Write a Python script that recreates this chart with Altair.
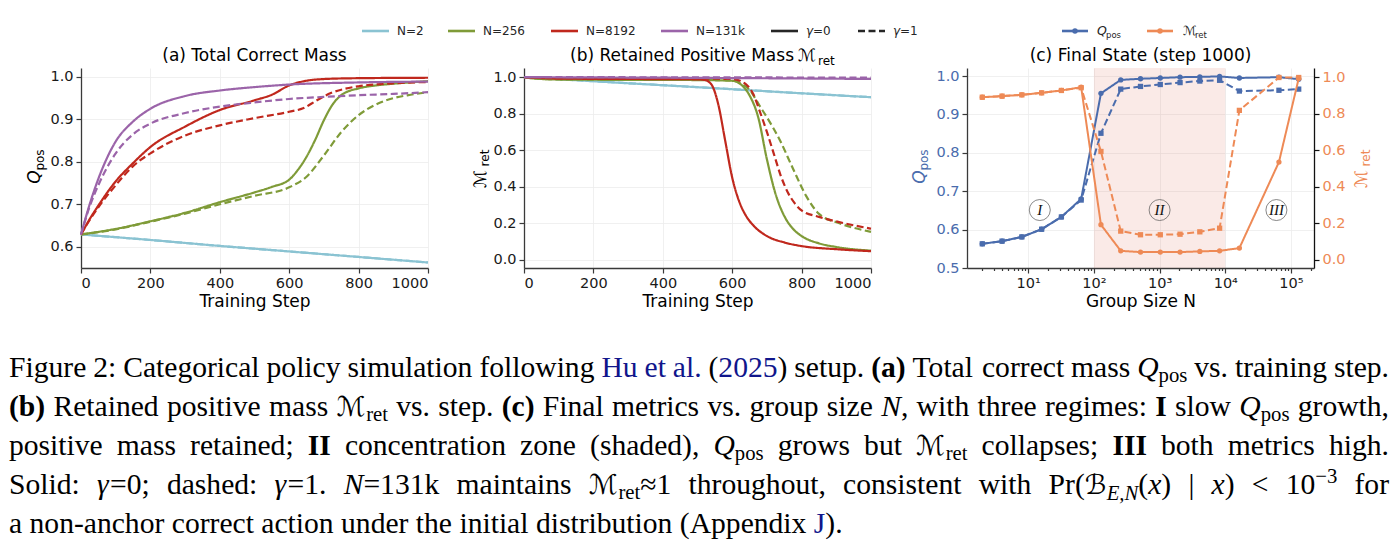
import altair as alt
import pandas as pd

# ======================= DATA =======================
N_LABELS = ["N=2", "N=256", "N=8192", "N=131k"]
GAMMA_LABELS = ["γ=0", "γ=1"]

# ---- panel (a): Q_pos vs training step ----
A_N2_STEPS = [0, 200, 400, 600, 800, 1000]
A_N2_G0 = [0.629, 0.616, 0.602, 0.589, 0.576, 0.563]
A_N2_G1 = [0.629, 0.616, 0.602, 0.589, 0.576, 0.563]
A_N256_G0_STEPS = [0, 100, 200, 300, 400, 500, 550, 600, 625, 650, 675, 700, 725, 750, 800, 850, 900, 1000]
A_N256_G0 = [0.629, 0.642, 0.660, 0.680, 0.705, 0.728, 0.741, 0.758, 0.781, 0.812, 0.852, 0.898, 0.935, 0.957, 0.973, 0.980, 0.984, 0.990]
A_N256_G1_STEPS = [0, 100, 200, 300, 400, 500, 600, 650, 700, 750, 800, 850, 900, 950, 1000]
A_N256_G1 = [0.629, 0.641, 0.659, 0.678, 0.700, 0.720, 0.740, 0.765, 0.815, 0.870, 0.910, 0.935, 0.950, 0.958, 0.964]
A_N8192_G0_STEPS = [0, 25, 50, 100, 150, 200, 300, 400, 500, 550, 600, 650, 700, 800, 1000]
A_N8192_G0 = [0.629, 0.665, 0.697, 0.754, 0.797, 0.835, 0.883, 0.922, 0.945, 0.958, 0.980, 0.991, 0.995, 0.997, 0.998]
A_N8192_G1_STEPS = [0, 25, 50, 100, 150, 200, 300, 400, 500, 600, 640, 680, 720, 760, 800, 900, 1000]
A_N8192_G1 = [0.629, 0.663, 0.693, 0.745, 0.790, 0.820, 0.862, 0.886, 0.903, 0.918, 0.926, 0.945, 0.962, 0.972, 0.978, 0.985, 0.988]
A_N131K_G0_STEPS = [0, 25, 50, 100, 150, 200, 300, 400, 500, 600, 800, 1000]
A_N131K_G0 = [0.629, 0.700, 0.760, 0.848, 0.895, 0.925, 0.955, 0.968, 0.976, 0.982, 0.987, 0.989]
A_N131K_G1_STEPS = [0, 25, 50, 100, 150, 200, 300, 400, 500, 600, 700, 800, 900, 1000]
A_N131K_G1 = [0.629, 0.695, 0.745, 0.820, 0.865, 0.890, 0.915, 0.930, 0.940, 0.948, 0.953, 0.957, 0.960, 0.964]

# ---- panel (b): M_ret vs training step ----
B_N2_STEPS = [0, 250, 500, 750, 1000]
B_N2_G0 = [1.0, 0.972, 0.945, 0.917, 0.890]
B_N2_G1 = [1.0, 0.972, 0.945, 0.917, 0.890]
B_N256_G0_STEPS = [0, 25, 50, 100, 300, 500, 600, 625, 650, 675, 700, 725, 750, 775, 800, 850, 900, 1000]
B_N256_G0 = [1.0, 0.993, 0.990, 0.987, 0.985, 0.984, 0.980, 0.960, 0.900, 0.780, 0.550, 0.360, 0.240, 0.170, 0.130, 0.090, 0.070, 0.050]
B_N256_G1_STEPS = [0, 50, 100, 300, 500, 600, 630, 650, 680, 700, 736, 775, 813, 851, 909, 1000]
B_N256_G1 = [1.0, 0.990, 0.988, 0.986, 0.985, 0.982, 0.960, 0.930, 0.840, 0.780, 0.660, 0.500, 0.350, 0.250, 0.200, 0.153]
B_N8192_G0_STEPS = [0, 100, 300, 500, 520, 540, 560, 580, 600, 620, 640, 660, 700, 750, 800, 900, 1000]
B_N8192_G0 = [1.0, 0.992, 0.990, 0.988, 0.985, 0.960, 0.850, 0.650, 0.450, 0.320, 0.240, 0.190, 0.130, 0.095, 0.075, 0.058, 0.047]
B_N8192_G1_STEPS = [0, 100, 300, 500, 600, 640, 660, 680, 700, 720, 740, 760, 780, 800, 850, 900, 1000]
B_N8192_G1 = [1.0, 0.995, 0.993, 0.992, 0.990, 0.960, 0.910, 0.810, 0.700, 0.580, 0.460, 0.370, 0.310, 0.270, 0.235, 0.210, 0.170]
B_N131K_STEPS = [0, 500, 1000]
B_N131K_G0 = [1.0, 0.996, 0.990]
B_N131K_G1 = [1.0, 0.999, 0.997]

# ---- panel (c): final state vs group size ----
C_N = [2, 4, 8, 16, 32, 64, 128, 256, 512, 1024, 2048, 4096, 8192, 16384, 65536, 131072]
C_Q_G0 = [0.563, 0.570, 0.581, 0.601, 0.633, 0.680, 0.955, 0.990, 0.993, 0.995, 0.997, 0.998, 0.999, 0.995, 0.997, 0.992]
C_Q_G1 = [0.563, 0.570, 0.581, 0.601, 0.633, 0.677, 0.851, 0.966, 0.973, 0.978, 0.983, 0.987, 0.989, 0.961, 0.963, 0.966]
C_M_G0 = [0.890, 0.896, 0.903, 0.914, 0.927, 0.945, 0.192, 0.049, 0.042, 0.042, 0.042, 0.046, 0.049, 0.064, 0.535, 0.993]
C_M_G1 = [0.890, 0.896, 0.903, 0.914, 0.927, 0.942, 0.593, 0.157, 0.137, 0.137, 0.140, 0.153, 0.173, 0.818, 0.998, 0.998]
C_SHADE_LO, C_SHADE_HI = [100], [10000]
C_REGION_LABELS = ["I", "II", "III"]
C_REGION_N = [15, 1000, 60000]
C_REGION_Q = [0.651, 0.651, 0.651]

# ---- ticks ----
STEP_TICKS = [0, 200, 400, 600, 800, 1000]
A_YTICKS = [0.6, 0.7, 0.8, 0.9, 1.0]
B_YTICKS = [0.0, 0.2, 0.4, 0.6, 0.8, 1.0]
C_QTICKS = [0.5, 0.6, 0.7, 0.8, 0.9, 1.0]
C_MTICKS = [0.0, 0.2, 0.4, 0.6, 0.8, 1.0]
C_XMAJOR = [10, 100, 1000, 10000, 100000]
C_XMINOR = [m * 10 ** k for k in range(0, 6) for m in range(2, 10) if 1.17 <= m * 10 ** k <= 2.24e5]

# ---- caption text ----
CAPTION_LINES = [
    ["Figure", "2:", "Categorical", "policy", "simulation", "following",
     [("Hu", "blue")], [("et", "blue")], [("al.", "blue")], [("(", "n"), ("2025", "blue"), (")", "n")],
     "setup.", [("(a)", "b")], "Total", "correct", "mass", [("Q", "i"), ("pos", "sub")],
     "vs.", "training", "step."],
    [[("(b)", "b")], "Retained", "positive", "mass", [("ℳ", "cal"), ("ret", "sub")], "vs.", "step.",
     [("(c)", "b")], "Final", "metrics", "vs.", "group", "size", [("N", "i"), (",", "n")], "with",
     "three", "regimes:", [("I", "b")], "slow", [("Q", "i"), ("pos", "sub")], "growth,"],
    ["positive", "mass", "retained;", [("II", "b")], "concentration", "zone", "(shaded),",
     [("Q", "i"), ("pos", "sub")], "grows", "but", [("ℳ", "cal"), ("ret", "sub")], "collapses;",
     [("III", "b")], "both", "metrics", "high."],
    ["Solid:", [("γ", "i"), ("=0;", "n")], "dashed:", [("γ", "i"), ("=1.", "n")],
     [("N", "i"), ("=131k", "n")], "maintains", [("ℳ", "cal"), ("ret", "sub"), ("≈1", "n")],
     "throughout,", "consistent", "with",
     [("Pr(", "n"), ("ℬ", "cal"), ("E,N", "subi"), ("(", "n"), ("x", "i"), (")", "n")],
     [("|", "n")], [("x", "i"), (")", "n")], [("<", "n")], [("10", "n"), ("−3", "sup")], "for"],
    ["a", "non-anchor", "correct", "action", "under", "the", "initial", "distribution",
     "(Appendix", [("J", "blue"), (").", "n")]],
]

# ======================= STYLE / LAYOUT =======================
N_COLORS = ["#8ac3d2", "#7f9b38", "#c0281d", "#9b64a9"]
BLUE = "#4a6cad"
ORANGE = "#ee8a56"
LINK = "#10168c"
DASH = [7, 3.5]
PW, PH = 347, 200
OX, OY = 81, 68          # page position of panel (a) plot area
GAP = 96
ROW_GAP = 10
CAP_TOP = OY + PH + ROW_GAP   # page y of the text canvas origin


def cx(x):
    return x - OX


def cy(y):
    return y - CAP_TOP


def long_df(parts):
    rows = []
    for n_label, gamma, steps, vals in parts:
        for s, v in zip(steps, vals):
            rows.append({"step": s, "val": v, "N": n_label, "gamma": gamma})
    return pd.DataFrame(rows)


df_a = long_df([
    ("N=2", "γ=0", A_N2_STEPS, A_N2_G0), ("N=2", "γ=1", A_N2_STEPS, A_N2_G1),
    ("N=256", "γ=0", A_N256_G0_STEPS, A_N256_G0), ("N=256", "γ=1", A_N256_G1_STEPS, A_N256_G1),
    ("N=8192", "γ=0", A_N8192_G0_STEPS, A_N8192_G0), ("N=8192", "γ=1", A_N8192_G1_STEPS, A_N8192_G1),
    ("N=131k", "γ=0", A_N131K_G0_STEPS, A_N131K_G0), ("N=131k", "γ=1", A_N131K_G1_STEPS, A_N131K_G1),
])
df_b = long_df([
    ("N=2", "γ=0", B_N2_STEPS, B_N2_G0), ("N=2", "γ=1", B_N2_STEPS, B_N2_G1),
    ("N=256", "γ=0", B_N256_G0_STEPS, B_N256_G0), ("N=256", "γ=1", B_N256_G1_STEPS, B_N256_G1),
    ("N=8192", "γ=0", B_N8192_G0_STEPS, B_N8192_G0), ("N=8192", "γ=1", B_N8192_G1_STEPS, B_N8192_G1),
    ("N=131k", "γ=0", B_N131K_STEPS, B_N131K_G0), ("N=131k", "γ=1", B_N131K_STEPS, B_N131K_G1),
])

color_enc = alt.Color("N:N", scale=alt.Scale(domain=N_LABELS, range=N_COLORS), legend=None)
dash_enc = alt.StrokeDash("gamma:N", scale=alt.Scale(domain=GAMMA_LABELS, range=[[1, 0], DASH]), legend=None)


def traj(df, ydom, yticks):
    return alt.Chart(df).mark_line(strokeWidth=2.2, interpolate="monotone").encode(
        x=alt.X("step:Q", scale=alt.Scale(domain=[0, 1000], nice=False, zero=False),
                axis=alt.Axis(values=STEP_TICKS, format="d", title="Training Step")),
        y=alt.Y("val:Q", scale=alt.Scale(domain=ydom, nice=False, zero=False),
                axis=alt.Axis(values=yticks, format=".1f", title=None)),
        color=color_enc,
        strokeDash=dash_enc,
    ).properties(width=PW, height=PH)


panel_a = traj(df_a, [0.55, 1.021], A_YTICKS)
panel_b = traj(df_b, [-0.045, 1.05], B_YTICKS)

# ---- panel (c) ----
MAJOR_TEST = "datum.value >= 10 && abs(log(datum.value) / LN10 - round(log(datum.value) / LN10)) < 0.001"
LABEL_EXPR = ("(" + MAJOR_TEST + ") ? '10' + ['⁰','¹','²','³','⁴','⁵','⁶'][round(log(datum.value) / LN10)] : ''")


def xc(field):
    return alt.X(field + ":Q",
                 scale=alt.Scale(type="log", domain=[1.17, 2.24e5], nice=False),
                 axis=alt.Axis(values=C_XMAJOR + C_XMINOR, labelExpr=LABEL_EXPR,
                               tickSize={"condition": {"test": MAJOR_TEST, "value": 5}, "value": 2.5},
                               gridOpacity={"condition": {"test": MAJOR_TEST, "value": 1}, "value": 0},
                               title="Group Size N"))


qY = alt.Y("val:Q", scale=alt.Scale(domain=[0.5, 1.021], nice=False, zero=False),
           axis=alt.Axis(values=C_QTICKS, format=".1f", title=None, labelColor=BLUE, orient="left"))
mY = alt.Y("val:Q", scale=alt.Scale(domain=[-0.045, 1.05], nice=False, zero=False),
           axis=alt.Axis(values=C_MTICKS, format=".1f", title=None, labelColor=ORANGE, orient="right",
                         grid=False, domainColor="#111111", tickColor="#111111"))

df_cq = pd.DataFrame({"N": C_N * 2, "val": C_Q_G0 + C_Q_G1,
                      "gamma": ["γ=0"] * len(C_N) + ["γ=1"] * len(C_N)})
df_cm = pd.DataFrame({"N": C_N * 2, "val": C_M_G0 + C_M_G1,
                      "gamma": ["γ=0"] * len(C_N) + ["γ=1"] * len(C_N)})
df_shade = pd.DataFrame({"lo": C_SHADE_LO, "hi": C_SHADE_HI})
df_reg = pd.DataFrame({"N": C_REGION_N, "val": C_REGION_Q, "label": C_REGION_LABELS})

shape_enc = alt.Shape("gamma:N", scale=alt.Scale(domain=GAMMA_LABELS, range=["circle", "square"]), legend=None)

shade = alt.Chart(df_shade).mark_rect(color="#e07060", opacity=0.15).encode(
    x=xc("lo"), x2="hi:Q", y=alt.value(0), y2=alt.value(PH))
q_lines = alt.Chart(df_cq).mark_line(color=BLUE, strokeWidth=2).encode(x=xc("N"), y=qY, strokeDash=dash_enc)
q_pts = alt.Chart(df_cq).mark_point(color=BLUE, filled=True, opacity=1, size=28).encode(
    x=xc("N"), y=qY, shape=shape_enc)
reg_circ = alt.Chart(df_reg).mark_point(shape="circle", size=441, filled=False, color="#555555",
                                        strokeWidth=0.7, opacity=1).encode(x=xc("N"), y=qY)
reg_text = alt.Chart(df_reg).mark_text(font="Liberation Serif", fontStyle="italic", fontSize=15,
                                       color="#111111", baseline="middle").encode(
    x=xc("N"), y=qY, text="label:N")
m_lines = alt.Chart(df_cm).mark_line(color=ORANGE, strokeWidth=2).encode(x=xc("N"), y=mY, strokeDash=dash_enc)
m_pts = alt.Chart(df_cm).mark_point(color=ORANGE, filled=True, opacity=1, size=28).encode(
    x=xc("N"), y=mY, shape=shape_enc)

panel_c = alt.layer(
    alt.layer(shade, q_lines, q_pts, reg_circ, reg_text),
    alt.layer(m_lines, m_pts),
).resolve_scale(y="independent").properties(width=PW, height=PH)

# ======================= TEXT CANVAS (titles, legends, caption) =======================
rows = []


def trow(text, x, y, size, color="#000000", font="DejaVu Sans", style="normal", weight="normal",
         align="left", baseline="alphabetic", angle=0):
    rows.append(dict(text=text, x=cx(x), y=cy(y), size=size, color=color, font=font, style=style,
                     weight=weight, align=align, baseline=baseline, angle=angle))


# panel titles
trow("(a) Total Correct Mass", 254.5, 61, 17, align="center")
trow("(b) Retained Positive Mass", 794, 61, 17, align="right")
trow("ℳ", 798, 61, 17)
trow("ret", 818, 65, 12)
trow("(c) Final State (step 1000)", 1140.5, 61, 17, align="center")

# rotated y-axis titles
trow("Q", 40, 177, 17, style="italic", align="center", angle=270)
trow("pos", 43.5, 160, 12, align="center", angle=270)
trow("ℳ", 486, 179, 17, align="center", angle=270)
trow("ret", 489, 158, 12, align="center", angle=270)
trow("Q", 925, 177, 17, color=BLUE, style="italic", align="center", angle=270)
trow("pos", 928, 160, 12, color=BLUE, align="center", angle=270)
trow("ℳ", 1367, 179, 17, color=ORANGE, align="center", angle=270)
trow("ret", 1370, 158, 12, color=ORANGE, align="center", angle=270)

# global legend
LEG_X = [362, 448, 551, 661, 771, 858]
LEG_Y = 31
for lab, x0 in zip(N_LABELS, LEG_X[:4]):
    trow(lab, x0 + 35, LEG_Y, 12, color="#262626", baseline="middle")
for lab, x0 in zip(GAMMA_LABELS, LEG_X[4:]):
    trow(lab[0], x0 + 35, LEG_Y, 12, color="#262626", style="italic", baseline="middle")
    trow(lab[1:], x0 + 42, LEG_Y, 12, color="#262626", baseline="middle")
# panel (c) legend
trow("Q", 1097, LEG_Y, 12.5, color="#262626", style="italic", baseline="middle")
trow("pos", 1106, LEG_Y + 3.5, 8.5, color="#262626", baseline="middle")
trow("ℳ", 1183, LEG_Y, 12.5, color="#262626", baseline="middle")
trow("ret", 1195, LEG_Y + 3.5, 8.5, color="#262626", baseline="middle")

# caption (Times metrics, justified)
TR = dict(zip("abcdefghijklmnopqrstuvwxyz",
              [444, 500, 444, 500, 444, 333, 500, 500, 278, 278, 500, 278, 778, 500, 500, 500, 500, 333, 389, 278, 500, 500, 722, 500, 500, 444]))
TR.update(zip("ABCDEFGHIJKLMNOPQRSTUVWXYZ",
              [722, 667, 667, 722, 611, 556, 722, 722, 333, 389, 722, 611, 889, 722, 722, 556, 722, 667, 556, 611, 722, 722, 944, 722, 722, 611]))
TR.update({d: 500 for d in "0123456789"})
TR.update({" ": 250, "(": 333, ")": 333, ",": 250, "-": 333, ".": 250, ":": 278, ";": 278,
           "<": 564, "=": 564, "|": 200, "≈": 549, "−": 564})
TB = dict(TR)
TB.update({"a": 500, "b": 556, "c": 444, "I": 389})
TI = dict(TR)
TI.update({"Q": 722, "N": 667, "x": 444, "E": 611, "γ": 440})
CAL_W = {"ℳ": 1.0, "ℬ": 0.74}

F = 29.6
CAP_X0, CAP_W = 9, 1380
CAP_Y = [377, 416, 455, 494, 533]
SMALL = 0.7


def piece_w(text, style):
    if style == "cal":
        return sum(CAL_W.get(ch, 1.0) for ch in text) * F
    size = F * SMALL if style in ("sub", "subi", "sup") else F
    table = TB if style == "b" else (TI if style in ("i", "subi") else TR)
    return sum(table.get(ch, 500) for ch in text) / 1000.0 * size


def cap_piece(text, style, x, y):
    kw = dict(font="Liberation Serif", style="normal", weight="normal", color="#000000", size=F)
    dy = 0.0
    if style == "blue":
        kw["color"] = LINK
    elif style == "b":
        kw["weight"] = "bold"
    elif style == "i":
        kw["style"] = "italic"
    elif style == "sub":
        kw["size"] = F * SMALL
        dy = 0.16 * F
    elif style == "subi":
        kw["size"] = F * SMALL
        kw["style"] = "italic"
        dy = 0.2 * F
    elif style == "sup":
        kw["size"] = F * SMALL
        dy = -0.38 * F
    elif style == "cal":
        kw["font"] = "DejaVu Sans"
        kw["size"] = F * 0.92
    trow(text, x, y + dy, kw["size"], color=kw["color"], font=kw["font"], style=kw["style"],
         weight=kw["weight"])


for li, line in enumerate(CAPTION_LINES):
    words = [[(w, "n")] if isinstance(w, str) else w for w in line]
    widths = [sum(piece_w(t, s) for t, s in word) for word in words]
    if li < len(CAPTION_LINES) - 1:
        gap = (CAP_W - sum(widths)) / (len(words) - 1)
    else:
        gap = 0.25 * F
    x = CAP_X0
    for word, w in zip(words, widths):
        px = x
        for t, s in word:
            cap_piece(t, s, px, CAP_Y[li])
            px += piece_w(t, s)
        x += w + gap

text_df = pd.DataFrame(rows)
canvas_layers = []

# invisible page-sized rect fixes the overall bounds to the 1398x544 page
page_df = pd.DataFrame({"x": [cx(0)], "x2": [cx(1398)], "y": [cy(0)], "y2": [cy(544)]})
canvas_layers.append(alt.Chart(page_df).mark_rect(opacity=0).encode(
    x=alt.X("x:Q", scale=None, axis=None), x2="x2:Q",
    y=alt.Y("y:Q", scale=None, axis=None), y2="y2:Q"))

# legend swatches
sw_solid = pd.DataFrame({"x": [cx(v) for v in LEG_X[:5]] + [cx(1062), cx(1147)],
                         "x2": [cx(v + 27) for v in LEG_X[:5]] + [cx(1088), cx(1173)],
                         "y": [cy(LEG_Y)] * 7,
                         "c": N_COLORS + ["#262626", BLUE, ORANGE]})
for _, r in sw_solid.iterrows():
    canvas_layers.append(alt.Chart(pd.DataFrame([r])).mark_rule(strokeWidth=2.6, color=r["c"]).encode(
        x=alt.X("x:Q", scale=None, axis=None), x2="x2:Q", y=alt.Y("y:Q", scale=None, axis=None)))
sw_dash = pd.DataFrame({"x": [cx(LEG_X[5])], "x2": [cx(LEG_X[5] + 27)], "y": [cy(LEG_Y)]})
canvas_layers.append(alt.Chart(sw_dash).mark_rule(strokeWidth=2.6, color="#262626", strokeDash=DASH).encode(
    x=alt.X("x:Q", scale=None, axis=None), x2="x2:Q", y=alt.Y("y:Q", scale=None, axis=None)))
for mx, mc in [(1075, BLUE), (1160, ORANGE)]:
    canvas_layers.append(alt.Chart(pd.DataFrame({"x": [cx(mx)], "y": [cy(LEG_Y)]})).mark_point(
        filled=True, opacity=1, size=30, color=mc).encode(
        x=alt.X("x:Q", scale=None, axis=None), y=alt.Y("y:Q", scale=None, axis=None)))

keys = ["font", "style", "weight", "align", "baseline", "size", "color", "angle"]
for k, g in text_df.groupby(keys, sort=False):
    font, style, weight, align, baseline, size, color, angle = k
    canvas_layers.append(
        alt.Chart(g[["text", "x", "y"]].reset_index(drop=True)).mark_text(
            font=font, fontStyle=style, fontWeight=weight, align=align, baseline=baseline,
            fontSize=float(size), color=color, angle=float(angle)).encode(
            x=alt.X("x:Q", scale=None, axis=None), y=alt.Y("y:Q", scale=None, axis=None),
            text=alt.Text("text:N")))

canvas = alt.layer(*canvas_layers).properties(width=PW, height=100)

chart = alt.concat(
    panel_a, panel_b, panel_c, canvas,
    columns=3, spacing={"row": ROW_GAP, "column": GAP}, bounds="flush",
).properties(
    padding=0, background="white"
).configure_view(strokeWidth=0).configure_axis(
    labelFont="DejaVu Sans", labelFontSize=14.5, labelColor="#1a1a1a",
    titleFont="DejaVu Sans", titleFontSize=17, titleFontWeight="normal", titleColor="#000000",
    titlePadding=4, domainColor="#3a3a3a", domainWidth=1.3, tickColor="#3a3a3a", tickWidth=1.2,
    tickSize=5, labelPadding=3, gridColor="#ececec", gridWidth=0.8, grid=True
)

chart.save("out.html", embed_options={"renderer": "svg", "actions": False})
